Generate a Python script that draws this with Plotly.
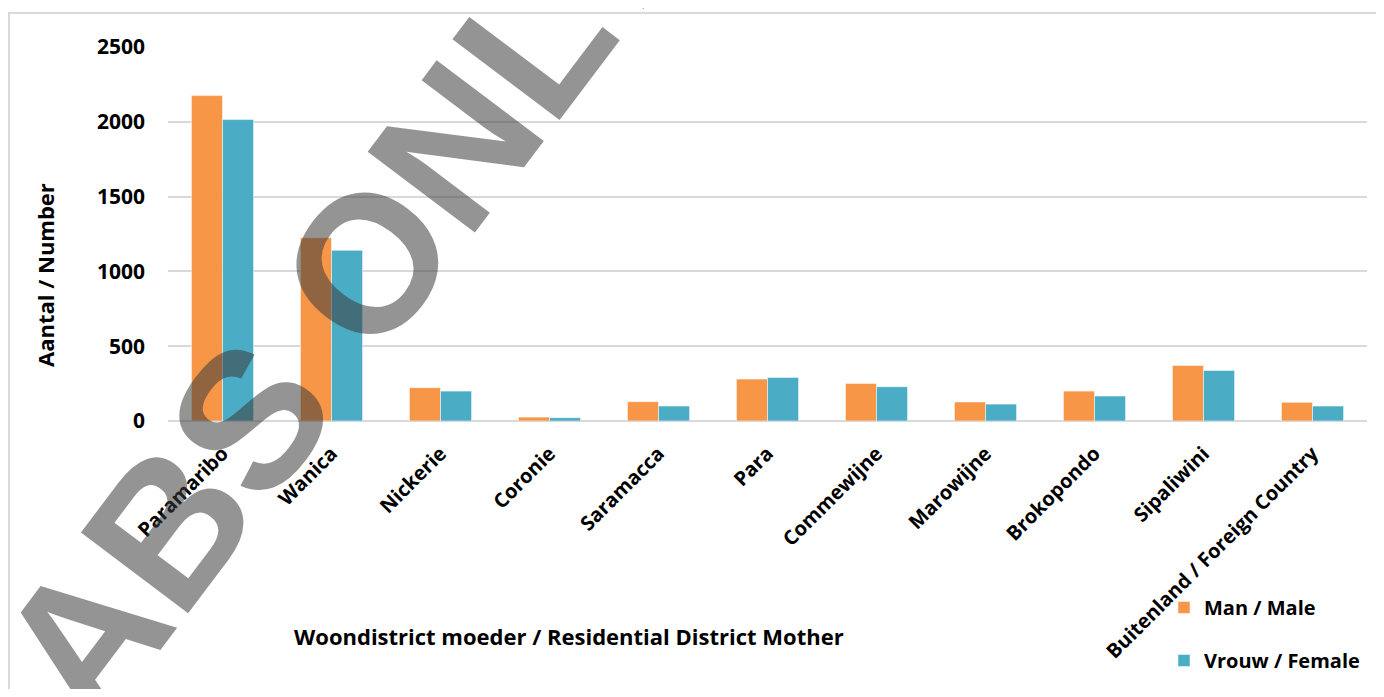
import plotly.graph_objects as go

districts = ["Paramaribo", "Wanica", "Nickerie", "Coronie", "Saramacca", "Para",
             "Commewijne", "Marowijne", "Brokopondo", "Sipaliwini",
             "Buitenland / Foreign Country"]
male = [2175, 1225, 223, 26, 129, 280, 251, 127, 200, 371, 125]
female = [2015, 1141, 200, 22, 100, 291, 229, 113, 167, 338, 100]
y_ticks = [0, 500, 1000, 1500, 2000, 2500]

FONT = "Open Sans"
W, H = 1368, 681
L, R, T, B = 160, 9, 39, 268
PW, PH = W - L - R, H - T - B

def px(x):
    return (x - L) / PW

def py(y):
    return (H - B - y) / PH

fig = go.Figure()
fig.add_trace(go.Bar(x=districts, y=male, name="Man / Male", legendgroup="m",
                     marker=dict(color="#F79646", line=dict(color="rgba(255,255,255,0.5)", width=1))))
fig.add_trace(go.Bar(x=districts, y=female, name="Vrouw / Female", legendgroup="f",
                     marker=dict(color="#4BACC6", line=dict(color="rgba(255,255,255,0.5)", width=1))))

fig.update_layout(
    width=W, height=H,
    margin=dict(l=L, r=R, t=T, b=B),
    plot_bgcolor="white", paper_bgcolor="white",
    barmode="group", bargap=0.43, bargroupgap=0,
    font=dict(family=FONT, color="black", size=18, weight="bold"),
    showlegend=True,
    legend=dict(x=px(1156), y=py(580), xanchor="left", yanchor="top",
                tracegroupgap=24, font=dict(size=20, family=FONT, weight="bold"),
                bgcolor="rgba(0,0,0,0)", traceorder="grouped"),
    xaxis=dict(tickangle=-45, tickfont=dict(size=20, family=FONT, weight="bold"),
               showgrid=False, showline=False, ticks="", zeroline=False,
               ticklabelstandoff=16),
    yaxis=dict(range=[0, 2500], tickvals=y_ticks, showgrid=True, gridcolor="#d9d9d9",
               gridwidth=1.5, zeroline=True, zerolinecolor="#d9d9d9", zerolinewidth=1.5,
               ticks="", ticklabelstandoff=22,
               tickfont=dict(size=21, family=FONT, weight="bold")),
)

fig.add_annotation(text="Aantal / Number", xref="paper", yref="paper",
                   x=px(37), y=py(267), textangle=-90, showarrow=False,
                   font=dict(size=22, family=FONT, weight="bold"),
                   xanchor="center", yanchor="middle")
fig.add_annotation(text="Woondistrict moeder / Residential District Mother",
                   xref="paper", yref="paper", x=px(561), y=py(628), showarrow=False,
                   font=dict(size=22, family=FONT, weight="bold"),
                   xanchor="center", yanchor="middle")

# chart border
fig.add_shape(type="rect", xref="paper", yref="paper",
              x0=px(1), y0=py(H + 20), x1=px(W + 20), y1=py(5),
              line=dict(color="#d9d9d9", width=2), fillcolor="rgba(0,0,0,0)", layer="below")

# watermark
fig.add_annotation(text="ABS ONLY", xref="paper", yref="paper",
                   x=px(331), y=py(292), textangle=-53, showarrow=False,
                   font=dict(size=195, family="Liberation Sans", weight="bold",
                             color="rgba(60,60,60,0.55)"),
                   xanchor="center", yanchor="middle")

fig.write_html("out.html")
